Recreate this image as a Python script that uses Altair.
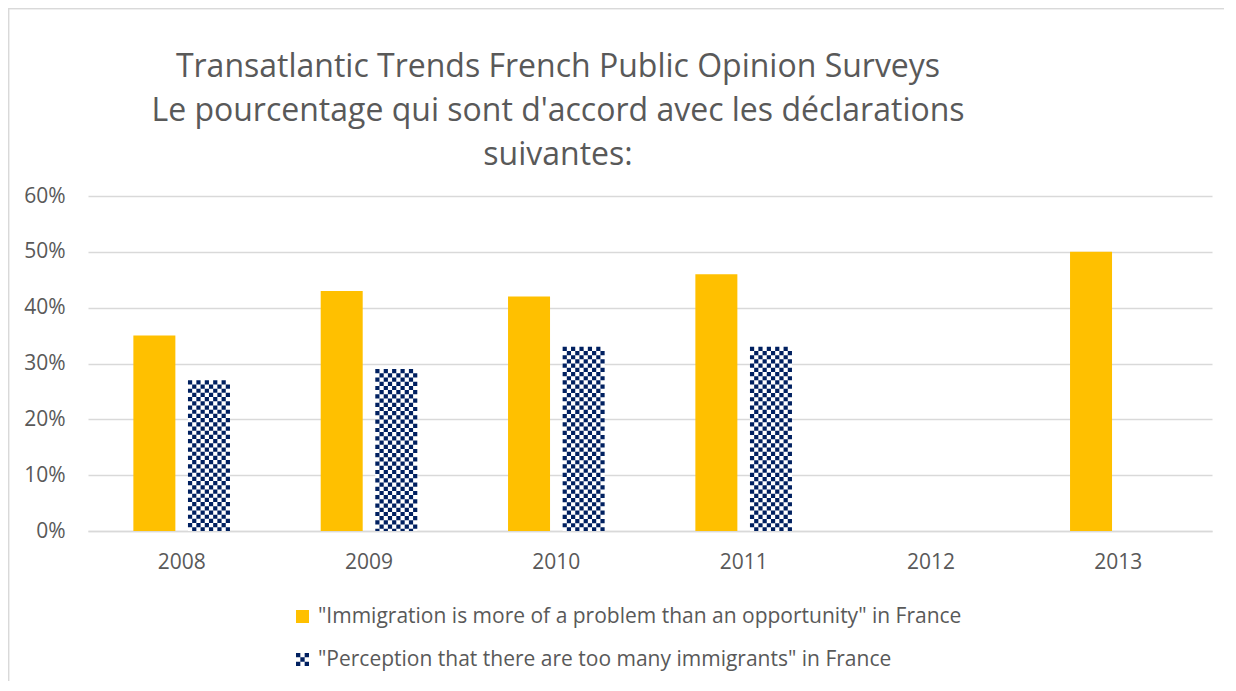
import altair as alt
import pandas as pd

years = ["2008", "2009", "2010", "2011", "2012", "2013"]
series = [
    "\"Immigration is more of a problem than an opportunity\" in France",
    "\"Perception that there are too many immigrants\" in France",
]
problem = [0.35, 0.43, 0.42, 0.46, None, 0.50]
too_many = [0.27, 0.29, 0.33, 0.33, None, None]
y_ticks = [0, 0.1, 0.2, 0.3, 0.4, 0.5, 0.6]
title_lines = [
    "Transatlantic Trends French Public Opinion Surveys",
    "Le pourcentage qui sont d'accord avec les déclarations",
    "suivantes:",
]

# pattern / layout parameters
NCOL = 10          # columns of the checker pattern per bar
GAP = 3            # empty slots between the two bars
CELL = 4.2         # checker cell size in px
W, H = 1124, 335
slot_domain = [f"a{i}" for i in range(NCOL)] + [f"g{i}" for i in range(GAP)] + [f"b{i}" for i in range(NCOL)]
step = W / len(years)
p_inner = 1 - (len(slot_domain) * CELL) / step
series_pad = GAP / (NCOL + GAP)

bar_rows = []
for yr, v1, v2 in zip(years, problem, too_many):
    for key, val in ((series[0], v1), (series[1], v2)):
        if val is not None:
            bar_rows.append({"year": yr, "series": key, "value": val})
bars_df = pd.DataFrame(bar_rows)

cell_rows = []
for yr, v2 in zip(years, too_many):
    if v2 is None:
        continue
    for c in range(NCOL):
        cell_rows.append({"year": yr, "value": v2, "zero": 0.0, "slot": f"b{c}", "parity": c % 2})
cells_df = pd.DataFrame(cell_rows)
legend_df = pd.DataFrame({"series": series})

GRAY = "#595959"
FONT = "Open Sans"
FS = 21

x_enc = alt.X("year:N",
              scale=alt.Scale(domain=years, paddingInner=p_inner, paddingOuter=p_inner / 2),
              axis=alt.Axis(title=None, labelAngle=0, ticks=False, grid=False,
                            domainColor="#d9d9d9", domainWidth=1.3,
                            labelFontSize=FS, labelColor=GRAY, labelFont=FONT,
                            labelPadding=20))
y_enc = alt.Y("value:Q",
              scale=alt.Scale(domain=[0, 0.6]),
              axis=alt.Axis(title=None, format=".0%", values=y_ticks, grid=True,
                            gridColor="#d9d9d9", gridWidth=1.3, domain=False, ticks=False,
                            labelFontSize=FS, labelColor=GRAY, labelFont=FONT,
                            labelPadding=23))
series_offset = alt.XOffset("series:N", scale=alt.Scale(domain=series, paddingInner=series_pad, paddingOuter=0))

bar_base = alt.Chart(bars_df).encode(x=x_enc, xOffset=series_offset, y=y_enc)
yellow_bars = bar_base.transform_filter(alt.datum.series == series[0]).mark_bar(color="#FFC000")
white_bars = bar_base.transform_filter(alt.datum.series == series[1]).mark_bar(color="white")

cell_base = alt.Chart(cells_df).encode(
    x=x_enc,
    xOffset=alt.XOffset("slot:N", scale=alt.Scale(domain=slot_domain, paddingInner=0, paddingOuter=0)),
    y=y_enc, y2=alt.Y2("zero:Q"),
)
checker_even = cell_base.transform_filter(alt.datum.parity == 0).mark_rule(
    color="#002060", strokeWidth=CELL, strokeDash=[CELL, CELL])
checker_odd = cell_base.transform_filter(alt.datum.parity == 1).mark_rule(
    color="#002060", strokeWidth=CELL, strokeDash=[CELL, CELL], strokeDashOffset=CELL)

checker_path = ("M-1,-1h0.667v0.667h-0.667z M0.333,-1h0.667v0.667h-0.667z "
                "M-0.333,-0.333h0.667v0.667h-0.667z M-1,0.333h0.667v0.667h-0.667z "
                "M0.333,0.333h0.667v0.667h-0.667z")

leg = alt.Legend(title=None, orient="none", legendX=204, legendY=410, direction="vertical",
                 labelFontSize=FS, labelColor=GRAY, labelFont=FONT, symbolSize=169,
                 symbolOpacity=1, symbolStrokeWidth=0, labelOffset=5, rowPadding=21, padding=0,
                 labelLimit=0)
legend_layer = alt.Chart(legend_df).mark_point(filled=True, opacity=0).encode(
    color=alt.Color("series:N", scale=alt.Scale(domain=series, range=["#FFC000", "#002060"]), legend=leg),
    shape=alt.Shape("series:N", scale=alt.Scale(domain=series, range=["square", checker_path]), legend=leg),
)

frame_left = alt.Chart(legend_df).mark_rule(color="#d9d9d9", strokeWidth=1.5).encode(
    x=alt.value(-79.5), y=alt.value(-188), y2=alt.value(H + 150))
frame_top = alt.Chart(legend_df).mark_rule(color="#d9d9d9", strokeWidth=1.5).encode(
    x=alt.value(-80), x2=alt.value(W + 30), y=alt.value(-187.5))

chart = alt.layer(yellow_bars, white_bars, checker_even, checker_odd, legend_layer,
                  frame_left, frame_top).resolve_scale(
    xOffset="independent"
).properties(
    width=W, height=H,
    padding={"left": 80, "top": 188, "right": 12, "bottom": 150},
    autosize=alt.AutoSizeParams(type="none"),
    background="white",
    title=alt.Title(title_lines, fontSize=32, font=FONT, fontWeight="normal", color=GRAY,
                    lineHeight=44, anchor="middle", frame="group", dx=-92, offset=-165),
).configure_view(stroke=None)

chart.save("out.html", embed_options={"renderer": "svg", "actions": False})
